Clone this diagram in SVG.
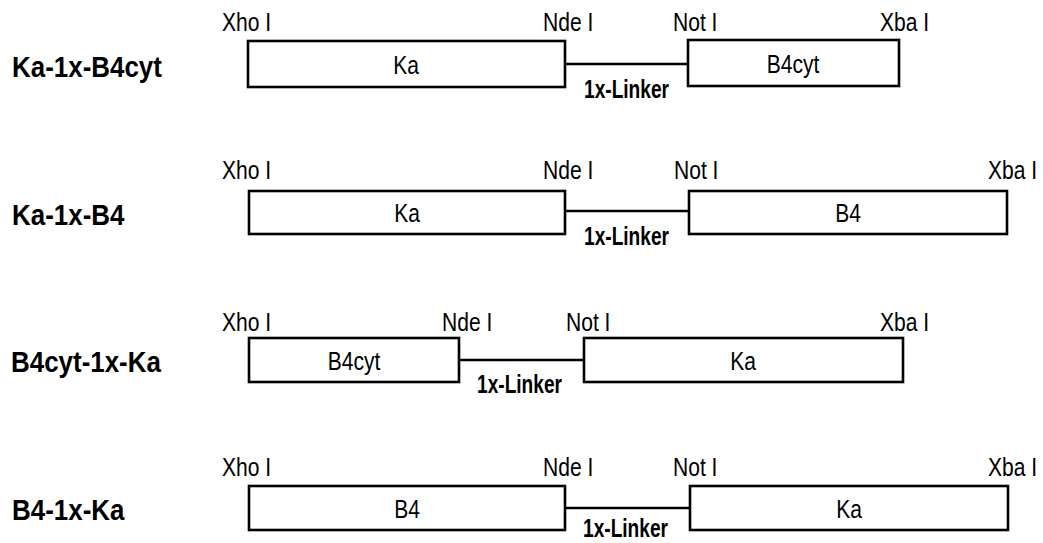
<svg xmlns="http://www.w3.org/2000/svg" width="1043" height="543" viewBox="0 0 1043 543">
<style>
.box{fill:#fff;stroke:#000;stroke-width:2.6}
.lnk{stroke:#000;stroke-width:2.6;fill:none}
.site{font-family:"Liberation Sans",Arial,sans-serif;font-size:26px;fill:#000}
.in{font-family:"Liberation Sans",Arial,sans-serif;font-size:26px;fill:#000;text-anchor:middle}
.ttl{font-family:"Liberation Sans",Arial,sans-serif;font-size:30px;font-weight:bold;fill:#000}
.lk{font-family:"Liberation Sans",Arial,sans-serif;font-size:25px;font-weight:bold;fill:#000}
</style>
<rect width="1043" height="543" fill="#fff"/>
<g id="connectors">
<line class="lnk" x1="565" y1="64" x2="688" y2="64"/>
<line class="lnk" x1="565" y1="211" x2="689" y2="211"/>
<line class="lnk" x1="459" y1="360" x2="584" y2="360"/>
<line class="lnk" x1="565" y1="508" x2="690" y2="508"/>
</g>
<g id="row1">
<text class="ttl" transform="translate(12,77) scale(0.865,1)">Ka-1x-B4cyt</text>
<text class="site" transform="translate(222,31) scale(0.81,1)">Xho I</text>
<text class="site" transform="translate(543,31) scale(0.81,1)">Nde I</text>
<text class="site" transform="translate(673,31) scale(0.81,1)">Not I</text>
<text class="site" transform="translate(880,31) scale(0.81,1)">Xba I</text>
<g id="r1-ka"><rect class="box" x="248" y="41" width="317" height="46"/><text class="in" transform="translate(406,74) scale(0.81,1)">Ka</text></g>
<g id="r1-b4cyt"><rect class="box" x="688" y="40" width="211" height="46"/><text class="in" transform="translate(793,73) scale(0.81,1)">B4cyt</text></g>
<text class="lk" transform="translate(584,98) scale(0.765,1)">1x-Linker</text>
</g>
<g id="row2">
<text class="ttl" transform="translate(12,225) scale(0.865,1)">Ka-1x-B4</text>
<text class="site" transform="translate(222,179) scale(0.81,1)">Xho I</text>
<text class="site" transform="translate(543,179) scale(0.81,1)">Nde I</text>
<text class="site" transform="translate(674,179) scale(0.81,1)">Not I</text>
<text class="site" transform="translate(988,179) scale(0.81,1)">Xba I</text>
<g id="r2-ka"><rect class="box" x="249" y="191" width="316" height="43"/><text class="in" transform="translate(407,222) scale(0.81,1)">Ka</text></g>
<g id="r2-b4"><rect class="box" x="689" y="191" width="318" height="43"/><text class="in" transform="translate(848,222) scale(0.81,1)">B4</text></g>
<text class="lk" transform="translate(584,245) scale(0.765,1)">1x-Linker</text>
</g>
<g id="row3">
<text class="ttl" transform="translate(11,372) scale(0.865,1)">B4cyt-1x-Ka</text>
<text class="site" transform="translate(222,331) scale(0.81,1)">Xho I</text>
<text class="site" transform="translate(442,331) scale(0.81,1)">Nde I</text>
<text class="site" transform="translate(566,331) scale(0.81,1)">Not I</text>
<text class="site" transform="translate(880,331) scale(0.81,1)">Xba I</text>
<g id="r3-b4cyt"><rect class="box" x="249" y="338" width="210" height="44"/><text class="in" transform="translate(354,370) scale(0.81,1)">B4cyt</text></g>
<g id="r3-ka"><rect class="box" x="584" y="338" width="319" height="44"/><text class="in" transform="translate(743,370) scale(0.81,1)">Ka</text></g>
<text class="lk" transform="translate(477,393) scale(0.765,1)">1x-Linker</text>
</g>
<g id="row4">
<text class="ttl" transform="translate(12,520) scale(0.865,1)">B4-1x-Ka</text>
<text class="site" transform="translate(222,476) scale(0.81,1)">Xho I</text>
<text class="site" transform="translate(543,476) scale(0.81,1)">Nde I</text>
<text class="site" transform="translate(673,476) scale(0.81,1)">Not I</text>
<text class="site" transform="translate(988,476) scale(0.81,1)">Xba I</text>
<g id="r4-b4"><rect class="box" x="249" y="486" width="316" height="44"/><text class="in" transform="translate(407,518) scale(0.81,1)">B4</text></g>
<g id="r4-ka"><rect class="box" x="690" y="486" width="318" height="44"/><text class="in" transform="translate(849,518) scale(0.81,1)">Ka</text></g>
<text class="lk" transform="translate(583,537) scale(0.765,1)">1x-Linker</text>
</g>
</svg>
